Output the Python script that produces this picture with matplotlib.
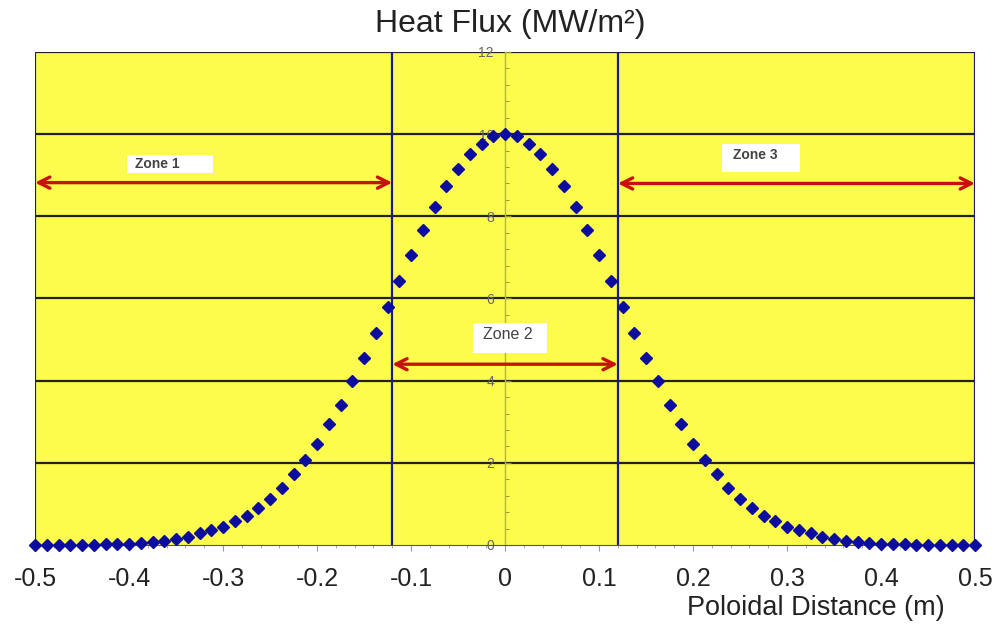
import numpy as np
import matplotlib.pyplot as plt
from matplotlib.patches import Rectangle
from matplotlib.ticker import MultipleLocator

plt.rcParams['font.family'] = ['Liberation Sans', 'DejaVu Sans']

# poloidal positions (m) and heat flux (MW/m^2)
x_pos = np.arange(-40, 41) * 0.0125
flux = [0.00, 0.00, 0.00, 0.01, 0.01, 0.01, 0.02, 0.02, 0.03, 0.05,
        0.07, 0.10, 0.14, 0.20, 0.28, 0.36, 0.45, 0.58, 0.71, 0.90,
        1.12, 1.39, 1.73, 2.07, 2.47, 2.94, 3.41, 3.99, 4.56, 5.17,
        5.79, 6.42, 7.06, 7.66, 8.22, 8.73, 9.15, 9.51, 9.77, 9.95,
        10.00,
        9.95, 9.77, 9.51, 9.15, 8.73, 8.22, 7.66, 7.06, 6.42, 5.79,
        5.17, 4.56, 3.99, 3.41, 2.94, 2.47, 2.07, 1.73, 1.39, 1.12,
        0.89, 0.71, 0.58, 0.45, 0.36, 0.28, 0.20, 0.14, 0.10, 0.07,
        0.05, 0.03, 0.02, 0.02, 0.01, 0.01, 0.01, 0.00, 0.00, 0.00]

# zone boundaries and labels
zone_edges = [-0.5, -0.12, 0.12, 0.5]
zone_names = ['Zone 1', 'Zone 2', 'Zone 3']
arrow_y = [8.82, 4.40, 8.80]

# white label boxes (x0, y0, width, height) and text anchor
label_box = [(-0.402, 9.06, 0.091, 0.43), (-0.0344, 4.67, 0.079, 0.73), (0.2305, 9.09, 0.083, 0.67)]
label_xy = [(-0.394, 9.27), (-0.023, 5.12), (0.243, 9.49)]
label_size = [10, 11.5, 10]
label_weight = ['bold', 'normal', 'bold']

fig = plt.figure(figsize=(9.98, 6.27), dpi=100)
ax = fig.add_axes([0.0351, 0.1308, 0.9419, 0.7863])
ax.set_facecolor('#fdfc4c')
ax.set_xlim(-0.5, 0.5)
ax.set_ylim(0, 12)

# horizontal grid
for g in [2, 4, 6, 8, 10, 12]:
    ax.axhline(g, color='#222222', lw=1.6, zorder=1)

# zone boundary lines
for xe in zone_edges:
    ax.axvline(xe, color='#1a1a8c', lw=1.6, zorder=2)

# arrows and labels for each zone
for i, name in enumerate(zone_names):
    ax.annotate('', xy=(zone_edges[i], arrow_y[i]), xytext=(zone_edges[i + 1], arrow_y[i]),
                arrowprops=dict(arrowstyle='<->, head_length=0.8, head_width=0.4',
                                color='#c81010', lw=2.4, shrinkA=0, shrinkB=0), zorder=4)
    bx, by, bw, bh = label_box[i]
    ax.add_patch(Rectangle((bx, by), bw, bh, facecolor='white', edgecolor='none', zorder=5))
    ax.text(label_xy[i][0], label_xy[i][1], name, ha='left', va='center',
            fontsize=label_size[i], fontweight=label_weight[i], color='#444444', zorder=6)

ax.plot(x_pos, flux, linestyle='none', marker='D', markersize=6.5,
        color='#0c0c9e', zorder=7, clip_on=False)

# y axis through the centre
for s in ['top', 'right']:
    ax.spines[s].set_visible(False)
ax.spines['left'].set_position(('data', 0))
ax.spines['left'].set_color('#b5b53a')
ax.spines['left'].set_linewidth(1.0)
ax.spines['bottom'].set_color('#555555')
ax.yaxis.set_major_locator(MultipleLocator(2))
ax.yaxis.set_minor_locator(MultipleLocator(0.4))
ax.tick_params(axis='y', which='major', labelsize=10, labelcolor='#666666',
               color='#888833', length=4, direction='in', pad=8)
ax.tick_params(axis='y', which='minor', color='#888833', length=3, direction='in')

ax.xaxis.set_minor_locator(MultipleLocator(0.02))
ax.set_xticks(np.arange(-0.5, 0.51, 0.1))
ax.set_xticklabels(['-0.5', '-0.4', '-0.3', '-0.2', '-0.1', '0', '0.1', '0.2', '0.3', '0.4', '0.5'])
ax.tick_params(axis='x', which='major', labelsize=18, labelcolor='#222222',
               color='#999999', length=4, pad=12)
ax.tick_params(axis='x', which='minor', color='#999999', length=2)

fig.text(0.511, 0.962, 'Heat Flux (MW/m²)', ha='center', va='center', fontsize=23, color='#222222')
fig.text(0.947, 0.030, 'Poloidal Distance (m)', ha='right', va='center', fontsize=19.5, color='#222222')

fig.savefig('out.png', dpi=100)
